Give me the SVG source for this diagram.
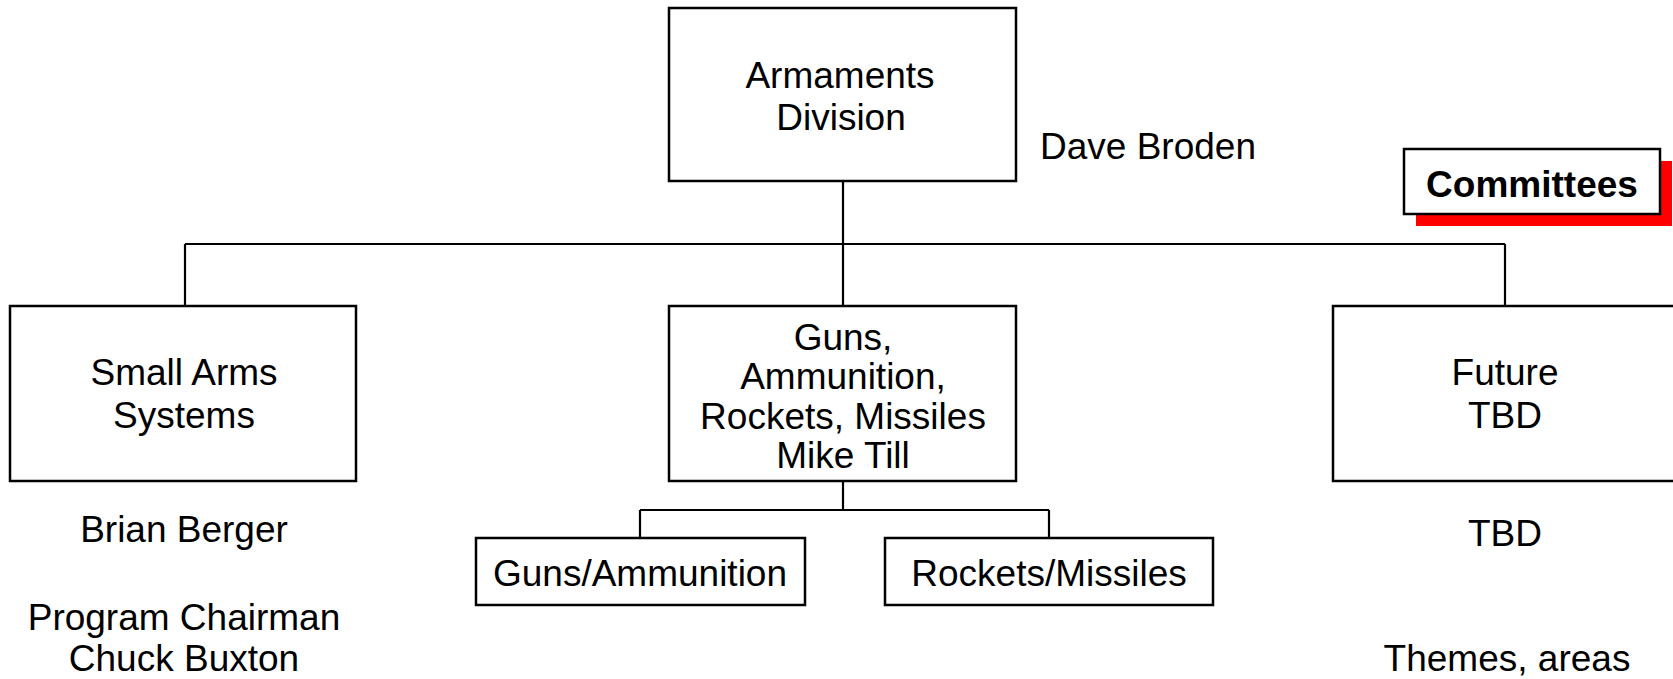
<svg xmlns="http://www.w3.org/2000/svg" width="1673" height="679" viewBox="0 0 1673 679">
<style>
.box{fill:#fff;stroke:#000;stroke-width:2.5}
.t{font-family:"Liberation Sans",Arial,sans-serif;font-size:37px;fill:#000;text-anchor:middle}
.b{font-weight:bold}
.c{stroke:#000;stroke-width:2.2;fill:none}
</style>
<rect width="1673" height="679" fill="#fff"/>
<g id="connectors">
<path class="c" d="M843 181V306M185 244H1505M185 244V306M1505 244V306M843 481V510M640 510H1049M640 510V538M1049 510V538"/>
</g>
<g id="armaments">
<rect class="box" x="669" y="8" width="347" height="173"/>
<text class="t" x="840" y="88">Armaments</text>
<text class="t" x="841" y="130">Division</text>
</g>
<g id="dave"><text class="t" x="1148" y="159">Dave Broden</text></g>
<g id="committees">
<rect x="1416" y="161" width="256" height="65" fill="#f00"/>
<rect class="box" x="1404" y="149" width="256" height="65"/>
<text class="t b" x="1532" y="197">Committees</text>
</g>
<g id="smallarms">
<rect class="box" x="10" y="306" width="346" height="175"/>
<text class="t" x="184" y="385">Small Arms</text>
<text class="t" x="184" y="428">Systems</text>
</g>
<g id="guns">
<rect class="box" x="669" y="306" width="347" height="175"/>
<text class="t" x="843" y="350">Guns,</text>
<text class="t" x="843" y="389">Ammunition,</text>
<text class="t" x="843" y="429">Rockets, Missiles</text>
<text class="t" x="843" y="468">Mike Till</text>
</g>
<g id="future">
<rect class="box" x="1333" y="306" width="346" height="175"/>
<text class="t" x="1505" y="385">Future</text>
<text class="t" x="1505" y="428">TBD</text>
</g>
<g id="gunsammo">
<rect class="box" x="476" y="538" width="329" height="67"/>
<text class="t" x="640" y="586">Guns/Ammunition</text>
</g>
<g id="rockets">
<rect class="box" x="885" y="538" width="328" height="67"/>
<text class="t" x="1049" y="586">Rockets/Missiles</text>
</g>
<g id="notes">
<text class="t" x="184" y="542">Brian Berger</text>
<text class="t" x="184" y="630">Program Chairman</text>
<text class="t" x="184" y="671">Chuck Buxton</text>
<text class="t" x="1507" y="671">Themes, areas</text>
<text class="t" x="1505" y="546">TBD</text>
</g>
</svg>
